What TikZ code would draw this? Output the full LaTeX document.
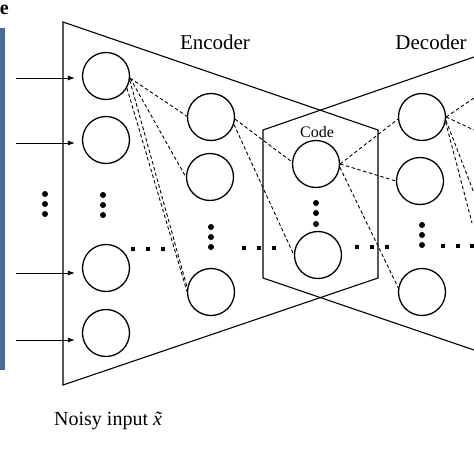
\documentclass[tikz,border=0pt]{standalone}
\usepackage{fontspec}
\setmainfont{Liberation Serif}
\usetikzlibrary{arrows.meta}
\definecolor{barblue}{RGB}{72,108,152}
\begin{document}
\begin{tikzpicture}[x=1pt,y=-1pt,
  neuron/.style={circle,draw,line width=1.3pt,fill=white,minimum size=47pt,inner sep=0pt},
  conn/.style={dash pattern=on 3.5pt off 2.5pt,line width=0.9pt},
  frame/.style={line width=1.1pt,line join=miter},
  inarrow/.style={line width=0.8pt,-{Latex[length=7pt,width=5pt]},shorten >=7pt},
  vdot/.style={circle,fill,inner sep=0pt,minimum size=6pt},
  hdot/.style={rectangle,fill,inner sep=0pt,minimum size=4pt},
  lbl/.style={inner sep=0pt,anchor=base}
]
\useasboundingbox (0,0) rectangle (474,474);
\fill[barblue] (0,28) rectangle (5,370);
\node[anchor=east,inner sep=0pt,font=\fontsize{20}{20}\selectfont\bfseries] (cut) at (9,10) {e};

% frames
\draw[frame] (63,22) -- (378,130) -- (378,278) -- (63,385) -- cycle;
\draw[frame] (474,57) -- (263,130) -- (263,278) -- (474,350);

% labels
\node[lbl,font=\fontsize{21}{21}\selectfont] (enc) at (215,49) {Encoder};
\node[lbl,font=\fontsize{21}{21}\selectfont] (dec) at (431,49) {Decoder};
\node[lbl,font=\fontsize{16}{16}\selectfont] (code) at (317,137) {Code};
\node[inner sep=0pt,anchor=base west,font=\fontsize{20}{20}\selectfont] (noisy) at (54,425) {Noisy input \textit{\~x}};

% neurons
\node[neuron] (c11) at (106,76) {};
\node[neuron] (c12) at (106,140) {};
\node[neuron] (c13) at (106,268) {};
\node[neuron] (c14) at (106,333) {};
\node[neuron] (c21) at (211,117) {};
\node[neuron] (c22) at (210,177) {};
\node[neuron] (c23) at (211,292) {};
\node[neuron] (cc1) at (316,164) {};
\node[neuron] (cc2) at (318,255) {};
\node[neuron] (d1) at (422,117) {};
\node[neuron] (d2) at (420,181) {};
\node[neuron] (d3) at (422,292) {};

% vertical dots
\foreach \y [count=\i] in {194,204,214} \node[vdot] (ld\i) at (45,\y) {};
\foreach \y [count=\i] in {195,205,215} \node[vdot] (v1\i) at (103,\y) {};
\foreach \y [count=\i] in {227,237,247} \node[vdot] (v2\i) at (211,\y) {};
\foreach \y [count=\i] in {203,213,224} \node[vdot] (vc\i) at (316,\y) {};
\foreach \y [count=\i] in {225,235,245} \node[vdot] (vd\i) at (422,\y) {};
% horizontal dots
\foreach \x [count=\i] in {133,148,163} \node[hdot] (h1\i) at (\x,249) {};
\foreach \x [count=\i] in {244,259,274} \node[hdot] (h2\i) at (\x,248) {};
\foreach \x [count=\i] in {357,372,387} \node[hdot] (hc\i) at (\x,247) {};
\foreach \x [count=\i] in {443,458,472} \node[hdot] (hd\i) at (\x,246) {};

% input arrows
\coordinate (a1) at (16,78);
\coordinate (a2) at (16,143);
\coordinate (a3) at (16,273);
\coordinate (a4) at (16,340);
\draw[inarrow] (a1) -- (c11.west |- a1);
\draw[inarrow] (a2) -- (c12.west |- a2);
\draw[inarrow] (a3) -- (c13.west |- a3);
\draw[inarrow] (a4) -- (c14.west |- a4);

% dashed connections
\draw[conn] (c11.-5) -- (c21.178);
\draw[conn] (c11.-5) -- (c22.west);
\draw[conn] (c11.-10) -- (c23.170);
\draw[conn] (c11.-30) -- (c23.178);
\draw[conn] (c21.-5) -- (cc1.175);
\draw[conn] (c21.-18) -- (cc2.west);
\draw[conn] (cc1.east) -- (d1.185);
\draw[conn] (cc1.east) -- (d2.west);
\draw[conn] (cc1.-8) -- (d3.170);
\coordinate (o1) at (474,98);
\coordinate (o2) at (474,130);
\coordinate (o3) at (474,193);
\coordinate (o4) at (472,223);
\draw[conn] (d1.east) -- (o1);
\draw[conn] (d1.east) -- (o2);
\draw[conn] (d1.-8) -- (o3);
\draw[conn] (d1.-12) -- (o4);
\end{tikzpicture}
\end{document}
